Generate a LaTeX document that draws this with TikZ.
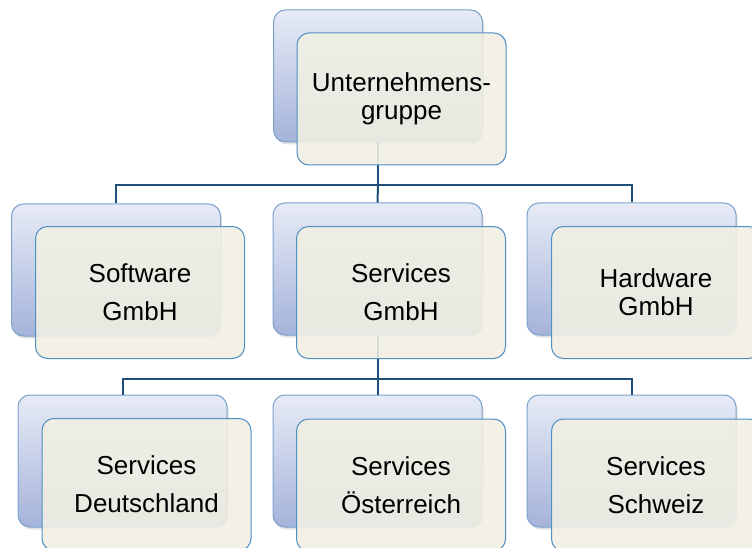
\documentclass[tikz,border=0pt]{standalone}
\usepackage{fontspec}
\setmainfont{Liberation Sans}
\usetikzlibrary{shadows}
\definecolor{linkcol}{HTML}{1F4E7A}
\definecolor{backtop}{HTML}{E7EBF6}
\definecolor{backbot}{HTML}{A5B3DA}
\definecolor{backline}{HTML}{7AA2CC}
\definecolor{frontfill}{HTML}{F2F0E3}
\definecolor{frontline}{HTML}{4F8FC4}
\tikzset{
  backbox/.style={rectangle, rounded corners=12pt, minimum width=209pt, minimum height=132pt,
    inner sep=0pt, draw=backline, line width=1pt, top color=backtop, bottom color=backbot,
    drop shadow={opacity=0.22, shadow xshift=1.5pt, shadow yshift=-2.5pt}},
  frontbox/.style={rectangle, rounded corners=12pt, minimum width=209pt, minimum height=132pt,
    inner sep=0pt, draw=frontline, line width=1pt, fill=frontfill, fill opacity=0.88,
    text opacity=1, align=center, text=black, font=\fontsize{26}{38}\selectfont},
  tight/.style={font=\fontsize{26}{28}\selectfont},
  conn/.style={draw=linkcol, line width=2pt}
}
\begin{document}
\begin{tikzpicture}[x=1pt,y=-1pt]
\useasboundingbox (0,0) rectangle (752,548);
\clip (0,0) rectangle (752,548);
\fill[white] (0,0) rectangle (752,548);

% rails of the two connector levels
\coordinate (rail1) at (0,185);
\coordinate (rail2) at (0,379);

% rear plates
\node[backbox] (topB) at (378,76) {};
\node[backbox] (swB)  at (116,270) {};
\node[backbox] (svB)  at (377.5,269) {};
\node[backbox] (hwB)  at (631.5,269) {};
\node[backbox] (deB)  at (122.5,461) {};
\node[backbox] (atB)  at (377.5,461) {};
\node[backbox] (chB)  at (631.5,461) {};

% connectors
\draw[conn] (topB.south) -- (topB.south |- rail1) -| (swB.north);
\draw[conn] (topB.south |- rail1) -| (hwB.north);
\draw[conn] (topB.south |- rail1) -- (svB.north);
\draw[conn] (svB.south) -- (svB.south |- rail2) -| (deB.north);
\draw[conn] (svB.south |- rail2) -| (chB.north);
\draw[conn] (svB.south |- rail2) -- (atB.north);

% front plates with labels
\node[frontbox, tight] (top) at (401.5,99) {Unternehmens-\\gruppe};
\node[frontbox] (sw) at (140,292.5) {Software\\GmbH};
\node[frontbox] (sv) at (401,292.5) {Services\\GmbH};
\node[frontbox, tight] (hw) at (656,292.5) {Hardware\\GmbH};
\node[frontbox] (de) at (146.5,484.5) {Services\\Deutschland};
\node[frontbox] (at) at (401,485) {Services\\Österreich};
\node[frontbox] (ch) at (656,485) {Services\\Schweiz};
\end{tikzpicture}
\end{document}
